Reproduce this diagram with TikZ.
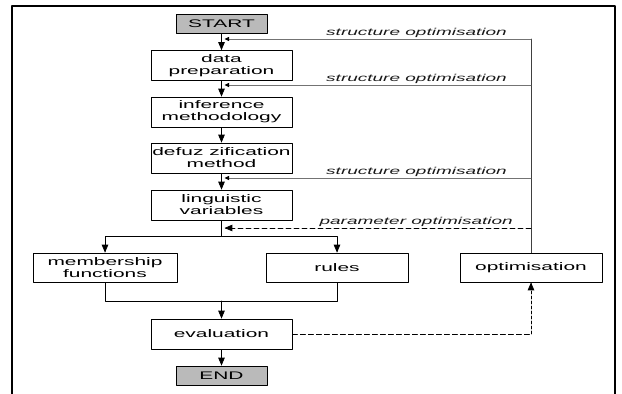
\documentclass[tikz,border=0pt]{standalone}
\usepackage{fontspec}
\setmainfont{Liberation Sans}[FakeStretch=1.9]
\usepackage{tikz}
\usetikzlibrary{arrows,arrows.meta}

\begin{document}
\begin{tikzpicture}[line cap=round,line join=round,>=triangle 45,x=1pt,y=-1pt,
  box/.style={draw,line width=0.8pt,minimum width=141pt,minimum height=30pt,inner sep=0pt,align=center,font=\fontsize{11}{12}\selectfont,text=black},
  term/.style={box,fill=black!27,minimum width=91pt,minimum height=19pt},
  lbl/.style={font=\fontsize{10}{12}\selectfont\itshape,inner sep=0pt,text=black!90,anchor=base east},
  flow/.style={line width=0.8pt},
  feed/.style={line width=0.8pt,black!55,-{Triangle[black,length=4.5pt,width=4pt]}},
  dashline/.style={line width=0.8pt,dash pattern=on 5pt off 3pt}]
\useasboundingbox (0,0) rectangle (622,394);
\draw [line width=2.5pt] (12,394)-- (12,6)-- (615,6)-- (615,394);
\node[term] (start) at (221.5,24) {START};
\node[box] (data) at (221.5,65.5) {data\\preparation};
\node[box] (infer) at (221.5,112) {inference\\methodology};
\node[box] (defuzz) at (221.5,158) {defuz zification\\method};
\node[box] (ling) at (221.5,205) {linguistic\\variables};
\node[box,minimum width=144pt,minimum height=29pt] (memb) at (105,267.5) {membership\\functions};
\node[box,minimum width=142pt,minimum height=29pt] (rules) at (337,267.5) {rules};
\node[box,minimum width=142pt,minimum height=29pt] (opt) at (531,267.5) {optimisation};
\node[box] (eval) at (221.5,334) {evaluation};
\node[term] (end) at (221.5,375.5) {END};
\coordinate (fb1) at (531,39);
\coordinate (fb2) at (531,85);
\coordinate (fb3) at (531,178);
\coordinate (fp) at (531,228);
\coordinate (split) at (221.5,236);
\coordinate (merge) at (221.5,301);
\draw [flow,->] (start)-- (data);
\draw [flow,->] (data)-- (infer);
\draw [flow,->] (infer)-- (defuzz);
\draw [flow,->] (defuzz)-- (ling);
\draw [flow] (ling)-- (split);
\draw [flow,->] (split) -| (memb);
\draw [flow,->] (split) -| (rules);
\draw [flow] (memb) |- (merge);
\draw [flow] (rules) |- (merge);
\draw [flow,->] (merge)-- (eval);
\draw [flow,->] (eval)-- (end);
\draw [line width=0.8pt,black!75] (fb1)-- (opt);
\draw [feed,shorten >=3pt] (fb1)-- (fb1 -| start);
\draw [feed,shorten >=3pt] (fb2)-- (fb2 -| data);
\draw [feed,shorten >=3pt] (fb3)-- (fb3 -| ling);
\draw [dashline,->,shorten >=3pt] (fp)-- (fp -| ling);
\draw [dashline] (eval)-- (eval -| opt);
\draw [line width=0.8pt,densely dashed,->] (eval -| opt)-- (opt);
\node[lbl] (s1) at (507,35.5) {structure optimisation};
\node[lbl] (s2) at (507,81.5) {structure optimisation};
\node[lbl] (s3) at (507,174.5) {structure optimisation};
\node[lbl] (p1) at (513,224.5) {parameter optimisation};
\end{tikzpicture}
\end{document}
